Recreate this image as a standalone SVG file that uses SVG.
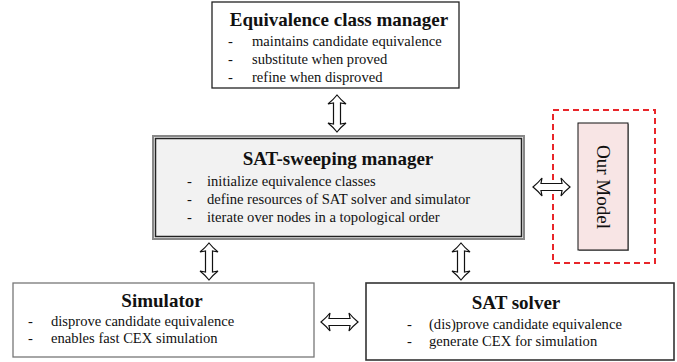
<svg xmlns="http://www.w3.org/2000/svg" width="677" height="362" viewBox="0 0 677 362" font-family="'Liberation Serif', 'Times New Roman', 'DejaVu Serif', serif">
<style>
text{font-family:'Liberation Serif','Times New Roman','DejaVu Serif',serif;fill:#111}
.t{font-size:19px;font-weight:bold;text-anchor:middle}
.b{font-size:14.6px}
.arr{fill:#fff;stroke:#111;stroke-width:1.2;stroke-linejoin:miter}
</style>
<defs>
<path id="va" class="arr" d="M0,0 Q4,5 9,9 L3.5,8 L3.5,29 L9,28 Q4,32 0,37 Q-4,32 -9,28 L-3.5,29 L-3.5,8 L-9,9 Q-4,5 0,0 Z"/>
</defs>
<rect width="677" height="362" fill="#fff"/>
<g id="equivalence-class-manager">
<rect x="212" y="2" width="247" height="86" fill="#fff" stroke="#222" stroke-width="1.3"/>
<text class="t" x="339" y="26">Equivalence class manager</text>
<text class="b" x="228" y="46">-</text><text class="b" x="252" y="46">maintains candidate equivalence</text>
<text class="b" x="228" y="64">-</text><text class="b" x="252" y="64">substitute when proved</text>
<text class="b" x="228" y="82">-</text><text class="b" x="252" y="82">refine when disproved</text>
</g>
<g id="sat-sweeping-manager">
<rect x="153" y="136" width="371" height="103" fill="#f2f2f2" stroke="#888" stroke-width="2"/>
<rect x="155.5" y="138.5" width="366" height="98" fill="none" stroke="#222" stroke-width="1.5"/>
<text class="t" x="338" y="165">SAT-sweeping manager</text>
<text class="b" x="187" y="186">-</text><text class="b" x="207" y="186">initialize equivalence classes</text>
<text class="b" x="187" y="204">-</text><text class="b" x="207" y="204">define resources of SAT solver and simulator</text>
<text class="b" x="187" y="222">-</text><text class="b" x="207" y="222">iterate over nodes in a topological order</text>
</g>
<g id="our-model">
<rect x="553" y="110" width="102" height="153" fill="none" stroke="#e8262a" stroke-width="2" stroke-dasharray="6,4"/>
<rect x="579" y="124" width="50" height="127" fill="#999"/>
<rect x="578" y="123" width="50" height="127" fill="#f8e5e5" stroke="#111" stroke-width="1"/>
<text x="603" y="187" transform="rotate(90 603 187)" font-size="19" text-anchor="middle" dominant-baseline="central">Our Model</text>
</g>
<g id="simulator">
<rect x="13" y="283" width="301" height="74" fill="#fff" stroke="#777" stroke-width="1.3"/>
<text class="t" x="162" y="307">Simulator</text>
<text class="b" x="28" y="326">-</text><text class="b" x="51" y="326">disprove candidate equivalence</text>
<text class="b" x="28" y="343">-</text><text class="b" x="51" y="343">enables fast CEX simulation</text>
</g>
<g id="sat-solver">
<rect x="366" y="283" width="308" height="77" fill="#fff" stroke="#333" stroke-width="1.6"/>
<text class="t" x="516" y="309">SAT solver</text>
<text class="b" x="407" y="329">-</text><text class="b" x="429" y="329">(dis)prove candidate equivalence</text>
<text class="b" x="407" y="346">-</text><text class="b" x="429" y="346">generate CEX for simulation</text>
</g>
<g id="connectors">
<use href="#va" transform="translate(337,95)"/>
<use href="#va" transform="translate(209,243)"/>
<use href="#va" transform="translate(461,243)"/>
<use href="#va" transform="translate(570,187) rotate(90)"/>
<use href="#va" transform="translate(358,322) rotate(90)"/>
</g>
</svg>
